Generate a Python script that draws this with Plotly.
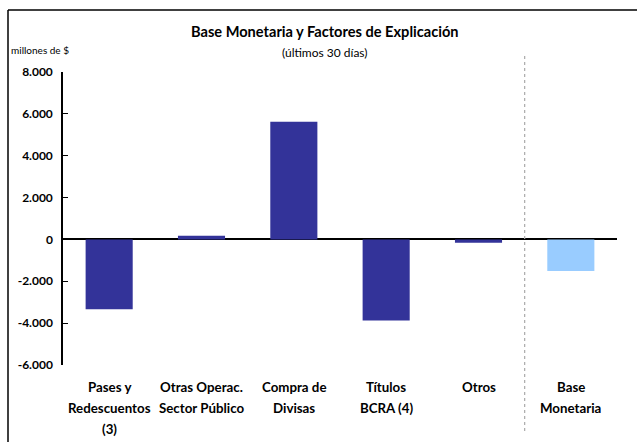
import plotly.graph_objects as go

categories = ["Pases y<br>Redescuentos<br>(3)", "Otras Operac.<br>Sector Público", "Compra de<br>Divisas",
              "Títulos<br>BCRA (4)", "Otros", "Base<br>Monetaria"]
values = [-3340, 170, 5620, -3870, -160, -1510]
bar_colors = ["#333399", "#333399", "#333399", "#333399", "#333399", "#99CCFF"]
tick_vals = [-6000, -4000, -2000, 0, 2000, 4000, 6000, 8000]
tick_text = ["-6.000", "-4.000", "-2.000", "0", "2.000", "4.000", "6.000", "8.000"]

FONT = "Lato"
W, H = 637, 442
L, R, T, B = 63, 20, 72, 77
ph = H - T - B
pw = W - L - R

def py(pix):
    return (H - B - pix) / ph

def px(pix):
    return (pix - L) / pw

xs = list(range(len(categories)))

fig = go.Figure(go.Bar(x=xs, y=values, marker=dict(color=bar_colors, line=dict(width=0)), width=0.51))

annotations = []
line_offsets = [-22, -43, -64]
for i, cat in enumerate(categories):
    for j, line in enumerate(cat.split("<br>")):
        annotations.append(dict(x=i, y=0, xref="x", yref="paper", yshift=line_offsets[j],
                                text=f"<b>{line}</b>", showarrow=False, xanchor="center",
                                yanchor="middle", font=dict(family=FONT, size=13.3, color="black")))

annotations += [
    dict(x=px(325), y=py(32), xref="paper", yref="paper", text="<b>Base Monetaria y Factores de Explicación</b>",
         showarrow=False, xanchor="center", yanchor="middle", font=dict(family=FONT, size=14.6, color="black")),
    dict(x=px(325), y=py(52), xref="paper", yref="paper", text="(últimos 30 días)",
         showarrow=False, xanchor="center", yanchor="middle", font=dict(family=FONT, size=12, color="black")),
    dict(x=px(9), y=py(50), xref="paper", yref="paper", text="millones de $",
         showarrow=False, xanchor="left", yanchor="middle", font=dict(family=FONT, size=10, color="black")),
]

shapes = [
    dict(type="line", xref="paper", yref="paper", x0=px(8), x1=px(637), y0=py(10), y1=py(10),
         line=dict(color="black", width=1.5)),
    dict(type="line", xref="paper", yref="paper", x0=px(8), x1=px(8), y0=py(442), y1=py(10),
         line=dict(color="black", width=1.5)),
    dict(type="line", xref="x", yref="paper", x0=4.5, x1=4.5, y0=py(431), y1=py(55),
         line=dict(color="#AAAAAA", width=1.2, dash="dot")),
]

fig.update_layout(
    width=W, height=H, margin=dict(l=L, r=R, t=T, b=B),
    paper_bgcolor="white", plot_bgcolor="white",
    showlegend=False, annotations=annotations, shapes=shapes,
    font=dict(family=FONT, color="black"),
)
fig.update_xaxes(range=[-0.5, 5.5], showticklabels=False, showgrid=False, showline=False, ticks="", zeroline=False)
fig.update_yaxes(range=[-6000, 8000], tickvals=tick_vals, ticktext=[f"<b>{t}</b>" for t in tick_text],
                 showgrid=False, showline=True, linecolor="black", linewidth=1.5,
                 ticks="inside", ticklen=5, tickcolor="black", tickwidth=1.2,
                 zeroline=True, zerolinecolor="black", zerolinewidth=1.5,
                 tickfont=dict(family=FONT, size=12, color="black"), ticklabelstandoff=6)

fig.write_html("out.html", config={"displayModeBar": False},
               post_script="document.body.style.margin='0';document.body.style.padding='0';")
